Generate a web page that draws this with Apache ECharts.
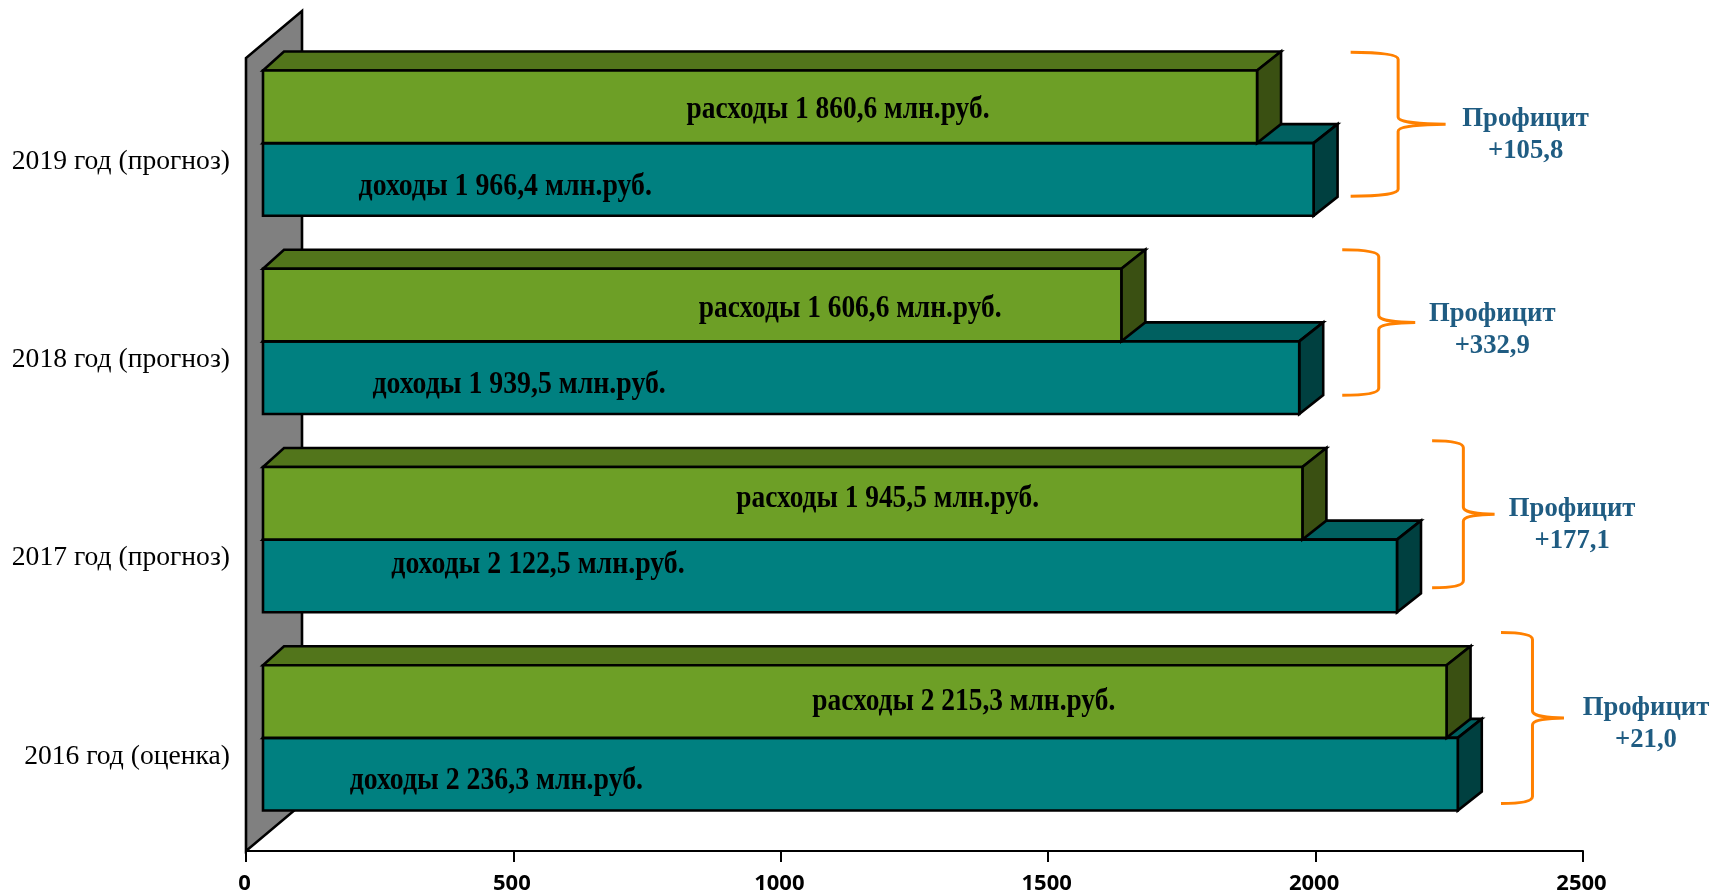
<!DOCTYPE html>
<html><head><meta charset="utf-8">
<style>html,body{margin:0;padding:0;background:#fff}#c{width:1713px;height:896px}</style>
<script src="https://cdn.jsdelivr.net/npm/echarts@6/dist/echarts.min.js"></script>
</head><body><div id="c"></div>
<script>
const categories = ['2016 год (оценка)','2017 год (прогноз)','2018 год (прогноз)','2019 год (прогноз)'];
const income = [2236.3, 2122.5, 1939.5, 1966.4];
const expense = [2215.3, 1945.5, 1606.6, 1860.6];
const incomeText = ['доходы 2 236,3 млн.руб.','доходы 2 122,5 млн.руб.','доходы 1 939,5 млн.руб.','доходы 1 966,4 млн.руб.'];
const expenseText = ['расходы 2 215,3 млн.руб.','расходы 1 945,5 млн.руб.','расходы 1 606,6 млн.руб.','расходы 1 860,6 млн.руб.'];
const profitValue = ['+21,0','+177,1','+332,9','+105,8'];
const profitWord = 'Профицит';

// layout of the hand-placed annotations
const incomeShift = [[-364,7],[-292,-11],[-262,7],[-283,7.5]];
const expenseShift = [[109,0],[105,-4],[158,4],[78,3]];
// gap from bar end, width, shift from category centre, height
const braceLayout = [[42,63,-34,171],[34,62.5,-39.5,147],[42,73,-33,145.5],[36,95,-33,144]];
const profitShift = [[82,6],[77.5,11],[77,8],[80,11]];

const FRONT = [17,-14], DEPTH = [21,-19], SIDE_DX = 24, WALL = [56,-47], BAR_SHARE = 0.3665, FRONT_SCALE = 0.999;
const SERIF = '"Liberation Serif","Times New Roman",serif';
const STROKE = {stroke:'#000', lineWidth:2.6, lineJoin:'miter'};

function box(api, value, idx, upper, c, label, shift, squeeze) {
  const p0 = api.coord([0, idx]), p1 = api.coord([value, idx]);
  const h = api.size([0, 1])[1] * BAR_SHARE;
  const x0 = p0[0] + FRONT[0], x1 = x0 + (p1[0] - p0[0]) * FRONT_SCALE, mid = p0[1] + FRONT[1];
  const t = upper ? mid - h : mid, b = upper ? mid : mid + h;
  const dx = DEPTH[0], dy = DEPTH[1];
  const poly = (pts, fill) => ({type:'polygon', shape:{points:pts}, style:Object.assign({fill}, STROKE)});
  return {type:'group', children:[
    poly([[x0,t],[x0+dx,t+dy],[x1+SIDE_DX,t+dy],[x1,t]], c[1]),
    poly([[x1,t],[x1+SIDE_DX,t+dy],[x1+SIDE_DX,b+dy],[x1,b]], c[2]),
    poly([[x0,t],[x1,t],[x1,b],[x0,b]], c[0]),
    {type:'text', x:(x0+x1)/2+shift[0], y:(t+b)/2+shift[1], scaleX:squeeze, z2:10,
     style:{text:label, fill:'#000', align:'center', verticalAlign:'middle',
            fontFamily:SERIF, fontWeight:'bold', fontSize:31}}
  ]};
}

const chart = echarts.init(document.getElementById('c'), null, {renderer:'canvas'});
chart.setOption({
  animation:false,
  backgroundColor:'#fff',
  grid:{left:246, right:130, top:58, bottom:45},
  xAxis:{type:'value', min:0, max:2500, interval:500, splitLine:{show:false},
    axisLine:{show:true, lineStyle:{color:'#000', width:2}},
    axisTick:{show:true, length:11, lineStyle:{color:'#000', width:2}},
    axisLabel:{margin:22, color:'#000', fontFamily:'"Noto Sans"', fontWeight:'bold', fontSize:22,
      padding:[0,3,0,0], formatter:v=>String(v)}},
  yAxis:{type:'category', data:categories, axisLine:{show:false}, axisTick:{show:false},
    axisLabel:{margin:16, color:'#000', fontFamily:SERIF, fontSize:27.6, verticalAlign:'top', lineHeight:9}},
  series:[
    {type:'custom', name:'стенка', data:[[0,0]], z:1, renderItem(params, api){
      const g = params.coordSys, l = g.x, t = g.y, b = g.y + g.height;
      return {type:'polygon', shape:{points:[[l,b],[l,t],[l+WALL[0],t+WALL[1]],[l+WALL[0],b+WALL[1]]]},
        style:Object.assign({fill:'#808080'}, STROKE)};
    }},
    {type:'custom', name:'доходы', z:2, data:income.map((v,i)=>[v,i]), encode:{x:0,y:1},
      renderItem(p, api){ const i = api.value(1);
        return box(api, api.value(0), i, false, ['#008080','#006060','#004040'], incomeText[i], incomeShift[i], 0.897); }},
    {type:'custom', name:'расходы', z:3, data:expense.map((v,i)=>[v,i]), encode:{x:0,y:1},
      renderItem(p, api){ const i = api.value(1);
        return box(api, api.value(0), i, true, ['#6d9f26','#52751b','#3a5012'], expenseText[i], expenseShift[i], 0.884); }},
    {type:'custom', name:'профицит', z:4, data:income.map((v,i)=>[v,i]), encode:{x:0,y:1},
      renderItem(p, api){ const i = api.value(1), L = braceLayout[i], S = profitShift[i];
        const end = api.coord([api.value(0), i]), cy = end[1] + L[2];
        const left = end[0] + FRONT[0] + L[0], w = L[1], tip = left + w, sp = left + w*0.5, h = L[3];
        const top = cy - h/2, bot = cy + h/2, q = Math.min(w*0.5, 48);
        const path = `M${left} ${top}C${sp-q*0.4} ${top},${sp} ${top+2},${sp} ${top+7}`+
          `L${sp} ${cy-7}C${sp} ${cy-2},${tip-w*0.25} ${cy},${tip} ${cy}`+
          `C${tip-w*0.25} ${cy},${sp} ${cy+2},${sp} ${cy+7}`+
          `L${sp} ${bot-7}C${sp} ${bot-2},${sp-q*0.4} ${bot},${left} ${bot}`;
        const txt = (s, dy) => ({type:'text', x:tip+S[0], y:cy+S[1]+dy, scaleX:0.97,
          style:{text:s, fill:'#1f5c82', align:'center', verticalAlign:'middle',
                 fontFamily:SERIF, fontWeight:'bold', fontSize:27.5}});
        return {type:'group', children:[
          {type:'path', shape:{pathData:path}, style:{fill:'none', stroke:'#ff8000', lineWidth:3}},
          txt(profitWord,-16), txt(profitValue[i],16)
        ]};
      }}
  ]
});
</script></body></html>
